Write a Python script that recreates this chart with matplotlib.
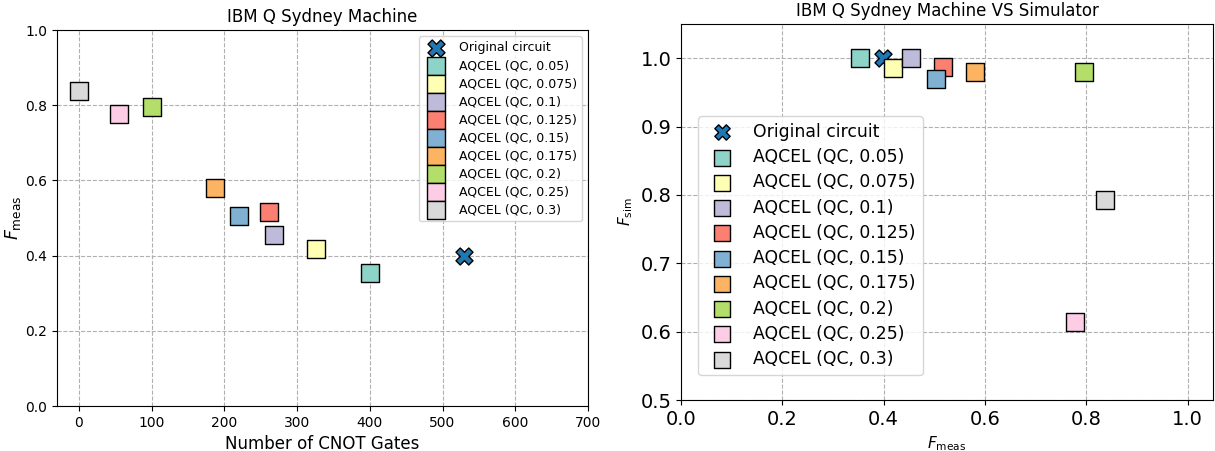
import matplotlib
matplotlib.use("Agg")
import matplotlib.pyplot as plt

labels = ["Original circuit", "AQCEL (QC, 0.05)", "AQCEL (QC, 0.075)", "AQCEL (QC, 0.1)",
          "AQCEL (QC, 0.125)", "AQCEL (QC, 0.15)", "AQCEL (QC, 0.175)", "AQCEL (QC, 0.2)",
          "AQCEL (QC, 0.25)", "AQCEL (QC, 0.3)"]
n_cnot = [530, 400, 326, 268, 262, 220, 187, 100, 55, 0]
f_meas = [0.398, 0.354, 0.418, 0.454, 0.517, 0.504, 0.580, 0.796, 0.777, 0.837]
f_sim = [1.000, 1.000, 0.986, 1.000, 0.987, 0.970, 0.980, 0.980, 0.614, 0.792]

colors = ["#1f77b4", "#8dd3c7", "#ffffb3", "#bebada", "#fb8072", "#80b1d3",
          "#fdb462", "#b3de69", "#fccde5", "#d9d9d9"]
markers = ["X"] + ["s"] * 9

fig = plt.figure(figsize=(12.15, 4.51), dpi=100)
ax1 = fig.add_axes([57/1215, 1-406/451, 531/1215, 376/451])
ax2 = fig.add_axes([681/1215, 1-400/451, 532/1215, 376/451])

for i in range(len(labels)):
    ax1.scatter(n_cnot[i], f_meas[i], s=150, marker=markers[i], c=colors[i],
                edgecolors="black", linewidths=1, label=labels[i], zorder=3)
    ax2.scatter(f_meas[i], f_sim[i], s=150, marker=markers[i], c=colors[i],
                edgecolors="black", linewidths=1, label=labels[i], zorder=3)

ax1.set_xlim(-30, 700)
ax1.set_ylim(0, 1.0)
ax1.grid(True, linestyle="--", color="#b0b0b0", linewidth=0.8)
ax1.set_axisbelow(True)
ax1.set_title("IBM Q Sydney Machine", fontsize=12)
ax1.set_xlabel("Number of CNOT Gates", fontsize=12)
ax1.set_ylabel(r"$F_{\rm meas}$", fontsize=12.5, labelpad=2)
ax1.tick_params(labelsize=10)
ax1.legend(loc="upper right", fontsize=9, labelspacing=0.4)

ax2.set_xlim(0, 1.05)
ax2.set_ylim(0.5, 1.05)
ax2.grid(True, linestyle="--", color="#b0b0b0", linewidth=0.8)
ax2.set_axisbelow(True)
ax2.set_title("IBM Q Sydney Machine VS Simulator", fontsize=12)
ax2.set_xlabel(r"$F_{\rm meas}$", fontsize=11)
ax2.set_ylabel(r"$F_{\rm sim}$", fontsize=11)
ax2.tick_params(labelsize=14)
ax2.legend(loc="upper left", bbox_to_anchor=(0.016, 0.778), fontsize=12.4,
           labelspacing=0.42, markerscale=0.9)

fig.savefig("out.png", dpi=100)
